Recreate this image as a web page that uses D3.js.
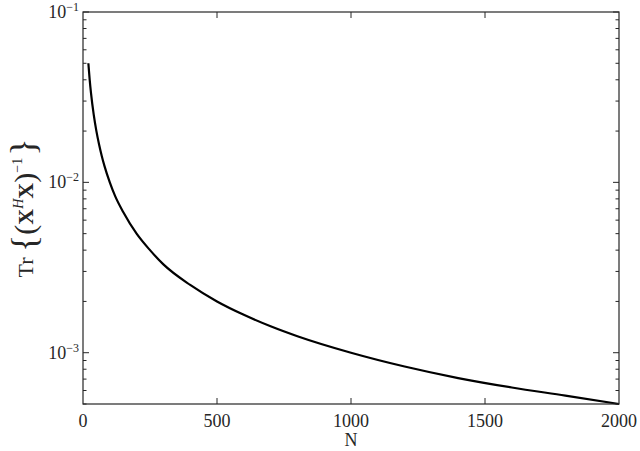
<!DOCTYPE html>
<html>
<head>
<meta charset="utf-8">
<script src="https://cdn.jsdelivr.net/npm/d3@7"></script>
<style>
  html, body { margin: 0; padding: 0; background: #fff; }
  svg { display: block; font-family: "Liberation Serif", "DejaVu Serif", serif; }
</style>
</head>
<body>
<svg id="chart" width="640" height="451"></svg>
<script>
// Data
const nValues = [20, 25, 30, 40, 50, 60, 70, 80, 100, 120, 150, 200, 250, 300, 400, 500, 600, 700, 800, 1000, 1200, 1400, 1600, 1800, 2000];
const traceValues = [0.050, 0.040, 0.0333, 0.025, 0.020, 0.0167, 0.0143, 0.0125, 0.0100, 0.0083, 0.0067, 0.0050, 0.0040, 0.0033, 0.0025, 0.0020, 0.00167, 0.00143, 0.00125, 0.00100, 0.00083, 0.00071, 0.000625, 0.00056, 0.00050];
const xTicks = [0, 500, 1000, 1500, 2000];
const yDecades = [-1, -2, -3];
const yDomain = [5e-4, 1e-1];
const xDomain = [0, 2000];

const svg = d3.select("#chart");
const m = { left: 83, right: 619, top: 12, bottom: 404 };
const x = d3.scaleLinear().domain(xDomain).range([m.left, m.right]);
const y = d3.scaleLog().domain(yDomain).range([m.bottom, m.top]);

const axisColor = "#262626";
const g = svg.append("g");

// minor log ticks
const minorTicks = [];
for (let e = -4; e <= -1; e++) {
  for (let k = 2; k <= 9; k++) {
    const v = k * Math.pow(10, e);
    if (v >= yDomain[0] - 1e-12 && v <= yDomain[1]) minorTicks.push(v);
  }
}

// x ticks (bottom and top, inward)
xTicks.forEach(t => {
  if (t === xDomain[0] || t === xDomain[1]) return;
  g.append("line").attr("x1", x(t)).attr("x2", x(t)).attr("y1", m.bottom).attr("y2", m.bottom - 6)
    .attr("stroke", axisColor).attr("stroke-width", 1);
  g.append("line").attr("x1", x(t)).attr("x2", x(t)).attr("y1", m.top).attr("y2", m.top + 6)
    .attr("stroke", axisColor).attr("stroke-width", 1);
});
// y major ticks
yDecades.forEach(e => {
  const v = Math.pow(10, e);
  const yy = y(v);
  g.append("line").attr("x1", m.left).attr("x2", m.left + 6).attr("y1", yy).attr("y2", yy).attr("stroke", axisColor);
  g.append("line").attr("x1", m.right).attr("x2", m.right - 6).attr("y1", yy).attr("y2", yy).attr("stroke", axisColor);
});
minorTicks.forEach(v => {
  const yy = y(v);
  g.append("line").attr("x1", m.left).attr("x2", m.left + 3.5).attr("y1", yy).attr("y2", yy).attr("stroke", axisColor);
  g.append("line").attr("x1", m.right).attr("x2", m.right - 3.5).attr("y1", yy).attr("y2", yy).attr("stroke", axisColor);
});

// curve
const line = d3.line().x((d, i) => x(nValues[i])).y(d => y(d)).curve(d3.curveMonotoneX);
g.append("path").datum(traceValues).attr("d", line)
  .attr("fill", "none").attr("stroke", "#000").attr("stroke-width", 2.2);

// box
g.append("rect").attr("x", m.left).attr("y", m.top).attr("width", m.right - m.left).attr("height", m.bottom - m.top)
  .attr("fill", "none").attr("stroke", axisColor).attr("stroke-width", 1.2);

// x tick labels
xTicks.forEach(t => {
  svg.append("text").attr("x", x(t)).attr("y", 427).attr("text-anchor", "middle")
    .attr("font-size", 18).attr("fill", axisColor).text(t);
});
// x label
svg.append("text").attr("x", (m.left + m.right) / 2).attr("y", 446).attr("text-anchor", "middle")
  .attr("font-size", 18).attr("fill", axisColor).text("N");

// y tick labels 10^e
yDecades.forEach(e => {
  const yy = y(Math.pow(10, e));
  const t = svg.append("text").attr("x", 79).attr("y", yy + 6).attr("text-anchor", "end")
    .attr("font-size", 18).attr("fill", axisColor);
  t.append("tspan").text("10");
  t.append("tspan").attr("dy", -7).attr("font-size", 12).text("\u2212" + Math.abs(e));
});

// y label
const cy = (m.top + m.bottom) / 2;
const yl = svg.append("text").attr("transform", `translate(33,${cy}) rotate(-90)`)
  .attr("text-anchor", "middle").attr("fill", axisColor).attr("font-size", 22);
yl.append("tspan").text("Tr ");
yl.append("tspan").attr("font-size", 36).attr("dy", 3).text("{");
yl.append("tspan").attr("font-size", 30).attr("dy", -1).text("(");
yl.append("tspan").attr("font-weight", "bold").attr("dy", -2).text("X");
yl.append("tspan").attr("font-style", "italic").attr("font-size", 14).attr("dy", -10).text("H");
yl.append("tspan").attr("font-weight", "bold").attr("dy", 10).text("X");
yl.append("tspan").attr("font-size", 30).attr("dy", 2).text(")");
yl.append("tspan").attr("font-size", 14).attr("dy", -13).text("\u22121");
yl.append("tspan").attr("font-size", 36).attr("dy", 13).attr("dx", 2).text("}");
</script>
</body>
</html>
